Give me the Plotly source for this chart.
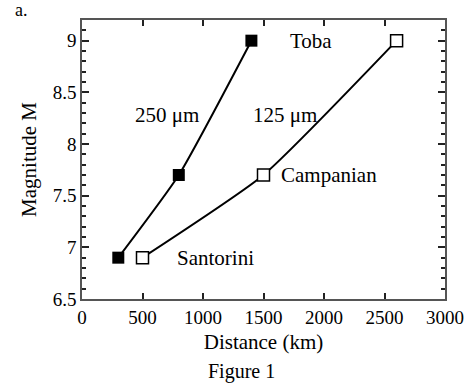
import plotly.graph_objects as go

# Distance reached by ash of two grain sizes vs eruption magnitude
dist_250 = [300, 800, 1400]
mag_250 = [6.9, 7.7, 9.0]
dist_125 = [500, 1500, 2600]
mag_125 = [6.9, 7.7, 9.0]

eruptions = ["Santorini", "Campanian", "Toba"]
label_x = [1105, 2040, 1890]
label_y = [6.9, 7.7, 9.0]

size_labels = ["250 \u03bcm", "125 \u03bcm"]
size_x = [700, 1680]
size_y = [8.28, 8.28]

serif = "Liberation Serif"

fig = go.Figure()
fig.add_trace(go.Scatter(
    x=dist_250, y=mag_250, mode="lines+markers",
    line=dict(color="black", width=2, shape="spline", smoothing=0.5),
    marker=dict(symbol="square", size=12, color="black"),
    showlegend=False,
))
fig.add_trace(go.Scatter(
    x=dist_125, y=mag_125, mode="lines+markers",
    line=dict(color="black", width=2, shape="spline", smoothing=0.5),
    marker=dict(symbol="square", size=12, color="white",
                line=dict(color="black", width=1.5)),
    showlegend=False,
))

for name, xv, yv in zip(eruptions, label_x, label_y):
    fig.add_annotation(x=xv, y=yv, text=name, showarrow=False,
                       font=dict(family=serif, size=21, color="black"),
                       xanchor="center", yanchor="middle")
for name, xv, yv in zip(size_labels, size_x, size_y):
    fig.add_annotation(x=xv, y=yv, text=name, showarrow=False,
                       font=dict(family=serif, size=21, color="black"),
                       xanchor="center", yanchor="middle")

fig.add_annotation(x=-0.19, y=1.035, xref="x domain", yref="y domain", text="a.",
                   showarrow=False, font=dict(family=serif, size=18, color="black"),
                   xanchor="left", yanchor="middle")
fig.add_annotation(x=0.44, y=-0.26, xref="x domain", yref="y domain", text="Figure 1",
                   showarrow=False, font=dict(family=serif, size=20, color="black"),
                   xanchor="center", yanchor="middle")

fig.update_xaxes(
    range=[0, 3000], dtick=500,
    ticks="inside", ticklen=6, tickwidth=1.5, tickcolor="#222",
    showline=True, linecolor="#555", linewidth=1.5, mirror="allticks",
    showgrid=False, zeroline=False,
    tickfont=dict(family=serif, size=19, color="black"),
    title=dict(text="Distance (km)", font=dict(family=serif, size=21, color="black"),
               standoff=8),
)
fig.update_yaxes(
    range=[6.5, 9.2], dtick=0.5,
    ticks="inside", ticklen=7, tickwidth=1.5, tickcolor="#222",
    minor=dict(dtick=0.1, ticks="inside", ticklen=4, tickwidth=1.5,
               tickcolor="#222"),
    showline=True, linecolor="#555", linewidth=1.5, mirror="allticks",
    showgrid=False, zeroline=False,
    tickfont=dict(family=serif, size=19, color="black"),
    title=dict(text="Magnitude M", font=dict(family=serif, size=21, color="black"),
               standoff=10),
)

fig.update_layout(
    template="simple_white",
    width=476, height=383,
    margin=dict(l=82, r=20, t=20, b=84),
    paper_bgcolor="white", plot_bgcolor="white",
)

fig.write_html("out.html")
